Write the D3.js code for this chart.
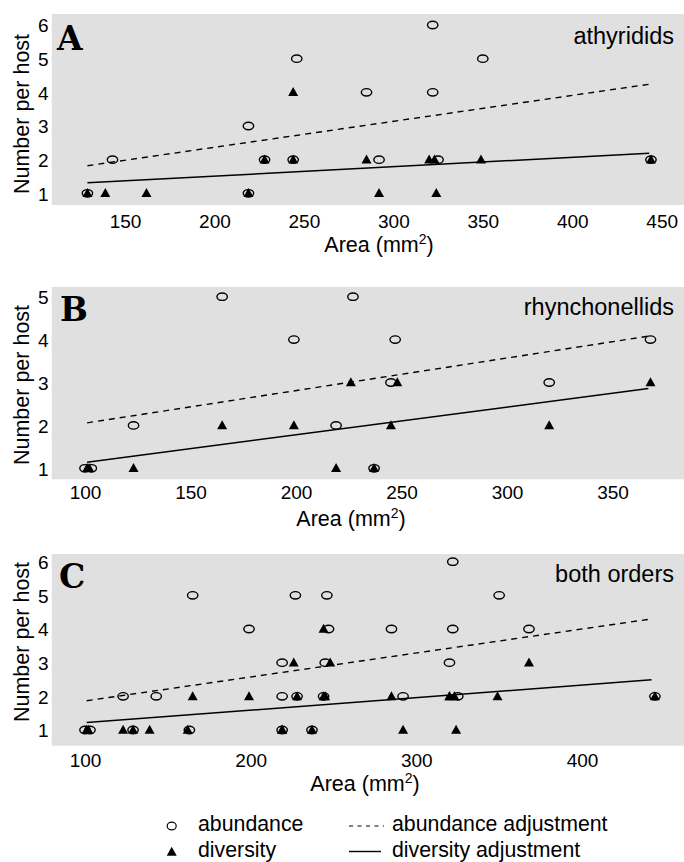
<!DOCTYPE html>
<html>
<head>
<meta charset="utf-8">
<script src="https://cdn.jsdelivr.net/npm/d3@7"></script>
<style>
  body { margin: 0; background: #fff; }
</style>
</head>
<body>
<div id="chartbox"></div>
<script>
const WIDTH = 684
const HEIGHT = 862
const FONT = "'Liberation Sans', Arial, sans-serif"
const SERIF = "'DejaVu Serif', serif"
const GRAY = '#e0e0e0'
const PLOT_LEFT = 51.7

// panel A - athyridids  [area mm2, number per host]
const abundA = [[129,1],[143,2],[219,3],[219,1],[228,2],[244,2],[246,5],[285,4],[292,2],[322,6],[322,4],[325,2],[350,5],[444,2]]
const diverA = [[129,1],[139,1],[162,1],[219,1],[228,2],[244,2],[244,4],[285,2],[292,1],[320,2],[323,2],[324,1],[349,2],[444,2]]
const fitAbundA = [[129,1.82],[443,4.24]]
const fitDiverA = [[129,1.31],[443,2.19]]

// panel B - rhynchonellids
const abundB = [[100,1],[103,1],[123,2],[165,5],[199,4],[219,2],[227,5],[237,1],[245,3],[247,4],[320,3],[368,4]]
const diverB = [[101,1],[102,1],[123,1],[165,2],[199,2],[219,1],[226,3],[237,1],[245,2],[248,3],[320,2],[368,3]]
const fitAbundB = [[101,2.06],[367,4.08]]
const fitDiverB = [[101,1.14],[367,2.86]]

// panel C - both orders
const abundC = [...abundA, ...abundB, [163,1]]
const diverC = [...diverA, ...diverB]
const fitAbundC = [[101,1.87],[442,4.30]]
const fitDiverC = [[101,1.22],[442,2.49]]

const xTicksA = [150, 200, 250, 300, 350, 400, 450]
const xTicksB = [100, 150, 200, 250, 300, 350]
const xTicksC = [100, 200, 300, 400]
const yTicksA = [1, 2, 3, 4, 5, 6]
const yTicksB = [1, 2, 3, 4, 5]
const yTicksC = [1, 2, 3, 4, 5, 6]

const panelLetters = ['A', 'B', 'C']
const panelNames = ['athyridids', 'rhynchonellids', 'both orders']
const legendLabels = ['abundance', 'diversity', 'abundance adjustment', 'diversity adjustment']

const panels = [
  { abund: abundA, diver: diverA, fitA: fitAbundA, fitD: fitDiverA, xTicks: xTicksA, yTicks: yTicksA },
  { abund: abundB, diver: diverB, fitA: fitAbundB, fitD: fitDiverB, xTicks: xTicksB, yTicks: yTicksB },
  { abund: abundC, diver: diverC, fitA: fitAbundC, fitD: fitDiverC, xTicks: xTicksC, yTicks: yTicksC },
]

// layout of each panel (pixels)
const layout = [
  { top: 14, bottom: 205, xd: [150, 450], xr: [125, 661.7], yd: [1, 6], yr: [193.3, 25],
    tickBase: 228, titleX: 379, titleBase: 252, yTitle: 114, letterX: 57, letterBase: 50, nameBase: 44 },
  { top: 287, bottom: 479.3, xd: [100, 350], xr: [85, 612.5], yd: [1, 5], yr: [468.3, 296.7],
    tickBase: 499, titleX: 351, titleBase: 526, yTitle: 385, letterX: 60, letterBase: 321, nameBase: 315 },
  { top: 554, bottom: 745.7, xd: [100, 400], xr: [85, 582], yd: [1, 6], yr: [730, 561.7],
    tickBase: 766.5, titleX: 365, titleBase: 790.5, yTitle: 642, letterX: 59, letterBase: 588, nameBase: 581.5 },
]

const svg = d3.select('#chartbox')
  .append('svg')
  .attr('width', WIDTH)
  .attr('height', HEIGHT)
  .style('background-color', '#fff')

const triangle = 'M0,-5.2L5,3.8L-5,3.8Z'

panels.forEach((p, i) => {
  const L = layout[i]
  const x = d3.scaleLinear().domain(L.xd).range(L.xr)
  const y = d3.scaleLinear().domain(L.yd).range(L.yr)
  const g = svg.append('g')

  g.append('rect')
    .attr('x', PLOT_LEFT)
    .attr('y', L.top)
    .attr('width', WIDTH - PLOT_LEFT)
    .attr('height', L.bottom - L.top)
    .attr('fill', GRAY)

  // x axis labels only
  const xa = g.append('g')
    .attr('transform', 'translate(0,' + L.tickBase + ')')
    .call(d3.axisBottom(x).tickValues(p.xTicks).tickSize(0).tickFormat(d3.format('d')))
    .attr('font-family', FONT)
    .attr('font-size', 19)
  xa.select('.domain').remove()
  xa.selectAll('text').attr('y', 0).attr('dy', 0).attr('fill', '#000')

  const ya = g.append('g')
    .attr('transform', 'translate(' + PLOT_LEFT + ',0)')
    .call(d3.axisLeft(y).tickValues(p.yTicks).tickSize(0).tickPadding(3).tickFormat(d3.format('d')))
    .attr('font-family', FONT)
    .attr('font-size', 19)
  ya.select('.domain').remove()
  ya.selectAll('text').attr('dy', '0.36em').attr('fill', '#000')

  // axis titles
  const xt = g.append('text')
    .attr('x', L.titleX)
    .attr('y', L.titleBase)
    .attr('text-anchor', 'middle')
    .attr('font-family', FONT)
    .attr('font-size', 21.5)
  xt.append('tspan').text('Area (mm')
  xt.append('tspan').attr('dy', -8).attr('font-size', 14).text('2')
  xt.append('tspan').attr('dy', 8).text(')')

  g.append('text')
    .attr('transform', 'translate(29,' + L.yTitle + ') rotate(-90)')
    .attr('text-anchor', 'middle')
    .attr('font-family', FONT)
    .attr('font-size', 21.5)
    .text('Number per host')

  g.append('text')
    .attr('x', L.letterX)
    .attr('y', L.letterBase)
    .attr('font-family', SERIF)
    .attr('font-weight', 'bold')
    .attr('font-size', 33)
    .text(panelLetters[i])

  g.append('text')
    .attr('x', 674)
    .attr('y', L.nameBase)
    .attr('text-anchor', 'end')
    .attr('font-family', FONT)
    .attr('font-size', 23.5)
    .text(panelNames[i])

  const line = d3.line().x(d => x(d[0])).y(d => y(d[1]))

  g.append('path')
    .datum(p.fitA)
    .attr('d', line)
    .attr('fill', 'none')
    .attr('stroke', '#000')
    .attr('stroke-width', 1.4)
    .attr('stroke-dasharray', '6,5')

  g.append('path')
    .datum(p.fitD)
    .attr('d', line)
    .attr('fill', 'none')
    .attr('stroke', '#000')
    .attr('stroke-width', 1.5)

  g.selectAll('ellipse')
    .data(p.abund)
    .enter()
    .append('ellipse')
    .attr('cx', d => x(d[0]))
    .attr('cy', d => y(d[1]))
    .attr('rx', 5.2)
    .attr('ry', 3.7)
    .attr('fill', 'none')
    .attr('stroke', '#000')
    .attr('stroke-width', 1.4)

  g.selectAll('path.tri')
    .data(p.diver)
    .enter()
    .append('path')
    .attr('class', 'tri')
    .attr('d', triangle)
    .attr('transform', d => 'translate(' + x(d[0]) + ',' + y(d[1]) + ')')
    .attr('fill', '#000')
})

// legend
const leg = svg.append('g').attr('font-family', FONT).attr('font-size', 21.3)

leg.append('ellipse')
  .attr('cx', 171.7).attr('cy', 826)
  .attr('rx', 4.5).attr('ry', 3.8)
  .attr('fill', 'none').attr('stroke', '#000').attr('stroke-width', 1.2)
leg.append('path')
  .attr('d', triangle)
  .attr('transform', 'translate(171.7,852)')
  .attr('fill', '#000')
leg.append('line')
  .attr('x1', 349).attr('x2', 384).attr('y1', 826).attr('y2', 826)
  .attr('stroke', '#000').attr('stroke-width', 1.1).attr('stroke-dasharray', '4,4.5')
leg.append('line')
  .attr('x1', 349).attr('x2', 381).attr('y1', 851.5).attr('y2', 851.5)
  .attr('stroke', '#000').attr('stroke-width', 1.4)

leg.selectAll('text')
  .data(legendLabels)
  .enter()
  .append('text')
  .attr('x', (d, i) => i < 2 ? 198 : 392)
  .attr('y', (d, i) => i % 2 === 0 ? 831 : 857)
  .text(d => d)
</script>
</body>
</html>
